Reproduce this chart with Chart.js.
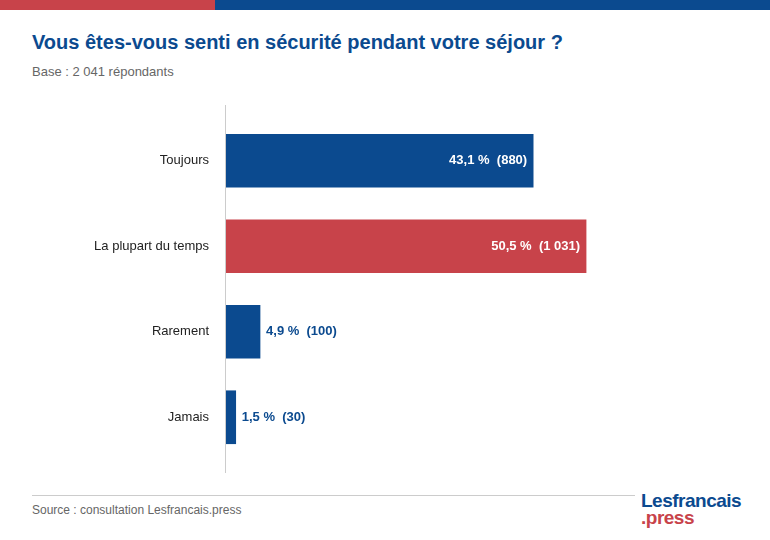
<!DOCTYPE html>
<html><head><meta charset="utf-8">
<script src="https://cdn.jsdelivr.net/npm/chart.js@4/dist/chart.umd.min.js"></script>
<style>
body{margin:0;width:770px;height:540px;background:#fff;font-family:"Liberation Sans",Arial,sans-serif;position:relative;overflow:hidden}
.bar{position:absolute;top:0;height:10px}
h1{position:absolute;left:32px;top:31px;margin:0;font-size:20px;color:#0b4a8f;font-weight:bold}
.sub{position:absolute;left:32px;top:64px;font-size:13px;color:#666}
#wrap{position:absolute;left:0;top:100px;width:770px;height:380px}
.foot{position:absolute;left:32px;top:495px;width:603px;border-top:1px solid #ccc}
.src{position:absolute;left:32px;top:503px;font-size:12px;color:#666}
.logo{position:absolute;left:641px;top:492px;font-weight:bold;font-size:19px;line-height:17px;letter-spacing:-0.5px}
</style></head><body>
<div class="bar" style="left:0;width:215px;background:#c8434a"></div>
<div class="bar" style="left:215px;width:555px;background:#0b4a8f"></div>
<h1>Vous êtes-vous senti en sécurité pendant votre séjour ?</h1>
<div class="sub">Base : 2 041 répondants</div>
<div id="wrap"><canvas id="c"></canvas></div>
<div class="foot"></div>
<div class="src">Source : consultation Lesfrancais.press</div>
<div class="logo"><span style="color:#0b4a8f">Lesfrancais</span><br><span style="color:#c8434a">.press</span></div>
<script>
const categories = ['Toujours', 'La plupart du temps', 'Rarement', 'Jamais'];
const percents = [43.1, 50.5, 4.9, 1.5];
const counts = ['880', '1 031', '100', '30'];
const barColors = ['#0b4a8f', '#c8434a', '#0b4a8f', '#0b4a8f'];

const labelPlugin = {
  id: 'labels',
  afterDatasetsDraw(chart) {
    const ctx = chart.ctx;
    const meta = chart.getDatasetMeta(0);
    ctx.save();
    ctx.font = 'bold 13px "Liberation Sans", Arial, sans-serif';
    ctx.textBaseline = 'middle';
    meta.data.forEach((bar, i) => {
      const txt = percents[i].toFixed(1).replace('.', ',') + ' %  (' + counts[i] + ')';
      if (percents[i] > 20) {
        ctx.fillStyle = '#fff'; ctx.textAlign = 'right';
        ctx.fillText(txt, bar.x - 6, bar.y);
      } else {
        ctx.fillStyle = '#0b4a8f'; ctx.textAlign = 'left';
        ctx.fillText(txt, bar.x + 6, bar.y);
      }
    });
    // axis line
    const a = chart.chartArea;
    ctx.strokeStyle = '#ccc'; ctx.lineWidth = 1;
    ctx.beginPath(); ctx.moveTo(a.left + 0.5, 5); ctx.lineTo(a.left + 0.5, 373); ctx.stroke();
    ctx.restore();
  }
};

new Chart(document.getElementById('c'), {
  type: 'bar',
  data: { labels: categories, datasets: [{ data: percents, backgroundColor: barColors, barThickness: 53 }] },
  options: {
    indexAxis: 'y', responsive: true, maintainAspectRatio: false, animation: false,
    layout: { padding: { top: 18, bottom: 20, right: 116, left: 0 } },
    plugins: { legend: { display: false }, tooltip: { enabled: false } },
    scales: {
      x: { display: false, min: 0, max: 60 },
      y: {
        grid: { display: false }, border: { display: false },
        ticks: { color: '#222', font: { size: 13, family: '"Liberation Sans", Arial, sans-serif' }, padding: 8 },
        afterFit(s) { s.width = 225; }
      }
    }
  },
  plugins: [labelPlugin]
});
</script>
</body></html>
